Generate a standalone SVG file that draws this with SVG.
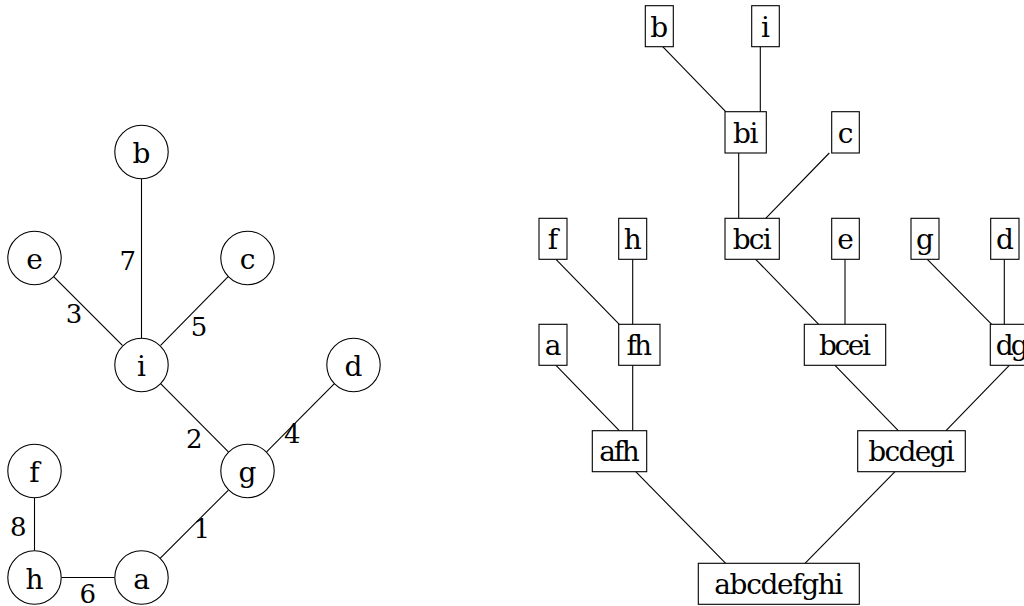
<svg xmlns="http://www.w3.org/2000/svg" width="1024" height="606" viewBox="0 0 1024 606">
<style>
text{font-family:'DejaVu Serif',serif;font-size:28px;fill:#000;text-anchor:middle}
.n circle,.n rect{fill:#fff;stroke:#000;stroke-width:1.1}
.e line{stroke:#000;stroke-width:1.1}
text.w{font-size:26px}
</style>
<rect width="1024" height="606" fill="#fff"/>
<g class="e" id="connectors">
<line x1="141.5" y1="179" x2="141.5" y2="338"/>
<line x1="53.4" y1="276.4" x2="122.4" y2="345.4"/>
<line x1="228.4" y1="276.4" x2="160.6" y2="345.4"/>
<line x1="160.6" y1="383.6" x2="228.4" y2="451.9"/>
<line x1="334.4" y1="383.6" x2="266.6" y2="451.9"/>
<line x1="228.4" y1="490.1" x2="160.1" y2="558.4"/>
<line x1="34.5" y1="498" x2="34.5" y2="550.5"/>
<line x1="61.5" y1="577.5" x2="114.5" y2="577.5"/>
<line x1="662.7" y1="46.7" x2="725.7" y2="111.7"/>
<line x1="760.3" y1="46.7" x2="760.3" y2="111.7"/>
<line x1="738.7" y1="153" x2="738.7" y2="218.3"/>
<line x1="829.3" y1="153" x2="765.7" y2="218.3"/>
<line x1="556" y1="259.3" x2="619.3" y2="324.3"/>
<line x1="632.7" y1="259.3" x2="632.7" y2="324.3"/>
<line x1="755.7" y1="259.3" x2="818.7" y2="324.3"/>
<line x1="845" y1="259.3" x2="845" y2="324.3"/>
<line x1="927.3" y1="259.3" x2="991.7" y2="324.3"/>
<line x1="1004.3" y1="259.3" x2="1004.3" y2="324.3"/>
<line x1="556" y1="365.3" x2="619.3" y2="430.7"/>
<line x1="632.7" y1="365.3" x2="632.7" y2="430.7"/>
<line x1="835" y1="365.3" x2="898.3" y2="430.7"/>
<line x1="1009.3" y1="365.3" x2="946" y2="430.7"/>
<line x1="635.7" y1="471.7" x2="725.7" y2="563.3"/>
<line x1="895" y1="471.7" x2="805" y2="563.3"/>
</g>
<g id="edge-labels">
<text class="w" x="127.7" y="269.5">7</text>
<text class="w" x="74" y="322.5">3</text>
<text class="w" x="199" y="335.5">5</text>
<text class="w" x="194.3" y="448">2</text>
<text class="w" x="292.3" y="443">4</text>
<text class="w" x="201.7" y="538">1</text>
<text class="w" x="18.3" y="535.5">8</text>
<text class="w" x="87.7" y="603">6</text>
</g>
<g class="n" id="g-b"><circle cx="141.5" cy="152" r="26.7"/><text x="141.5" y="163">b</text></g>
<g class="n" id="g-e"><circle cx="34.5" cy="258" r="26.7"/><text x="34.5" y="269">e</text></g>
<g class="n" id="g-c"><circle cx="247.5" cy="258" r="26.7"/><text x="247.5" y="269">c</text></g>
<g class="n" id="g-i"><circle cx="141.5" cy="365" r="26.7"/><text x="141.5" y="376">i</text></g>
<g class="n" id="g-d"><circle cx="353.5" cy="365" r="26.7"/><text x="353.5" y="376">d</text></g>
<g class="n" id="g-g"><circle cx="247.5" cy="471" r="26.7"/><text x="247.5" y="482">g</text></g>
<g class="n" id="g-f"><circle cx="34.5" cy="471" r="26.7"/><text x="34.5" y="482">f</text></g>
<g class="n" id="g-h"><circle cx="34.5" cy="577.5" r="26.7"/><text x="34.5" y="588.5">h</text></g>
<g class="n" id="g-a"><circle cx="141.5" cy="577.5" r="26.7"/><text x="141.5" y="588.5">a</text></g>
<g class="n" id="t-b"><rect x="645.3" y="5.7" width="28" height="41"/><text x="659.3" y="36.5">b</text></g>
<g class="n" id="t-i"><rect x="751.7" y="5.7" width="27.6" height="41"/><text x="765.5" y="36.5">i</text></g>
<g class="n" id="t-bi"><rect x="725" y="111.7" width="41.3" height="41.3"/><text x="745.7" y="142.5" textLength="25.5">bi</text></g>
<g class="n" id="t-c"><rect x="831.7" y="111.7" width="27.6" height="41.3"/><text x="845.5" y="142.5">c</text></g>
<g class="n" id="t-f"><rect x="539" y="218.3" width="28" height="41"/><text x="553" y="249">f</text></g>
<g class="n" id="t-h"><rect x="618.7" y="218.3" width="28" height="41"/><text x="632.7" y="249">h</text></g>
<g class="n" id="t-bci"><rect x="725" y="218.3" width="54.3" height="41"/><text x="752.2" y="249" textLength="39">bci</text></g>
<g class="n" id="t-e"><rect x="831.7" y="218.3" width="27.6" height="41"/><text x="845.5" y="249">e</text></g>
<g class="n" id="t-g"><rect x="911" y="218.3" width="28" height="41"/><text x="925" y="249">g</text></g>
<g class="n" id="t-d"><rect x="990.7" y="218.3" width="28.3" height="41"/><text x="1004.9" y="249">d</text></g>
<g class="n" id="t-a"><rect x="539" y="324.3" width="28" height="41"/><text x="553" y="355">a</text></g>
<g class="n" id="t-fh"><rect x="618.7" y="324.3" width="41.3" height="41"/><text x="639.3" y="355" textLength="25.5">fh</text></g>
<g class="n" id="t-bcei"><rect x="804.3" y="324.3" width="81.4" height="41"/><text x="845" y="355" textLength="52">bcei</text></g>
<g class="n" id="t-dg"><rect x="990.3" y="324.3" width="44" height="41"/><text x="1012.3" y="355" textLength="33">dg</text></g>
<g class="n" id="t-afh"><rect x="592.3" y="430.7" width="54.4" height="41"/><text x="619.5" y="461" textLength="40.5">afh</text></g>
<g class="n" id="t-bcdegi"><rect x="857.7" y="430.7" width="107.6" height="41"/><text x="911.5" y="461" textLength="86.5">bcdegi</text></g>
<g class="n" id="t-abcdefghi"><rect x="698.3" y="563.3" width="161" height="41"/><text x="778.8" y="593.5" textLength="129">abcdefghi</text></g>
</svg>
